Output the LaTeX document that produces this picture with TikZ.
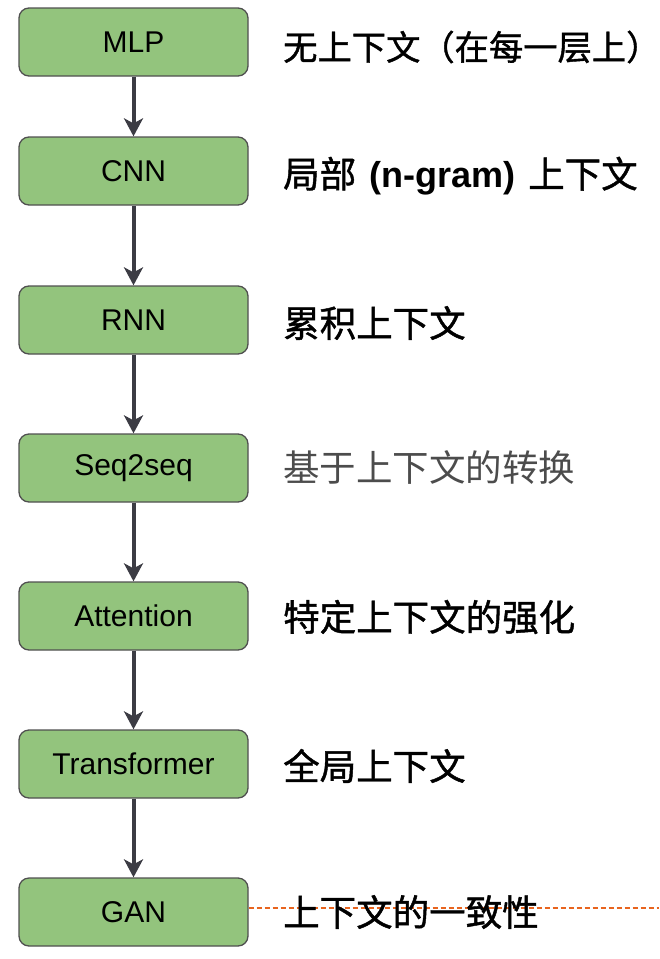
\documentclass[tikz,border=0pt]{standalone}
\usepackage{fontspec}
\setmainfont{Liberation Sans}
\newfontfamily\cjk[FakeBold=1.2]{Noto Sans CJK SC}
\newfontfamily\cjklight{Noto Sans CJK SC}
\usetikzlibrary{arrows.meta}
\definecolor{boxgreen}{HTML}{93C47D}
\definecolor{boxline}{HTML}{505050}
\definecolor{arrowgray}{HTML}{3C3C44}
\definecolor{dashorange}{HTML}{E8641E}
\tikzset{
  stepbox/.style={draw=boxline, line width=1.3pt, fill=boxgreen, rounded corners=10pt,
    minimum width=229pt, minimum height=68pt, inner sep=0pt,
    font=\fontsize{30}{30}\selectfont},
  flow/.style={draw=arrowgray, line width=4pt, -{Stealth[length=18pt,width=19pt,inset=5pt]}},
  desc/.style={anchor=west, inner sep=0pt, font=\cjk\fontsize{36.5}{36.5}\selectfont},
}
\begin{document}
\begin{tikzpicture}[x=1pt,y=-1pt]
\useasboundingbox (0,0) rectangle (659,959);
\node[stepbox] (mlp) at (133.5,42) {MLP};
\node[stepbox] (cnn) at (133.5,171) {CNN};
\node[stepbox] (rnn) at (133.5,320) {RNN};
\node[stepbox] (seq) at (133.5,468) {Seq2seq};
\node[stepbox] (att) at (133.5,616) {Attention};
\node[stepbox] (trf) at (133.5,764) {Transformer};
\node[stepbox] (gan) at (133.5,912) {GAN};
\draw[flow] (mlp) -- (cnn);
\draw[flow] (cnn) -- (rnn);
\draw[flow] (rnn) -- (seq);
\draw[flow] (seq) -- (att);
\draw[flow] (att) -- (trf);
\draw[flow] (trf) -- (gan);
\coordinate (dashend) at (659,908);
\draw[dashorange, line width=1.3pt, dash pattern=on 5pt off 3pt] (gan.east |- dashend) -- (dashend);
\node[desc, font=\cjk\fontsize{34.3}{34.3}\selectfont] (t1) at (283,47) {无上下文（在每一层上）};
\node[desc] (t2) at (283,176) {局部\hspace*{13pt}{\fontspec{Liberation Sans}\bfseries\fontsize{36}{36}\selectfont (n-gram)}\hspace*{13pt}上下文};
\node[desc] (t3) at (283,323) {累积上下文};
\node[desc, font=\cjklight\fontsize{36.5}{36.5}\selectfont, text=black!70] (t4) at (283,468) {基于上下文的转换};
\node[desc] (t5) at (283,617) {特定上下文的强化};
\node[desc] (t6) at (283,766) {全局上下文};
\node[desc] (t7) at (283,912) {上下文的一致性};
\end{tikzpicture}
\end{document}
